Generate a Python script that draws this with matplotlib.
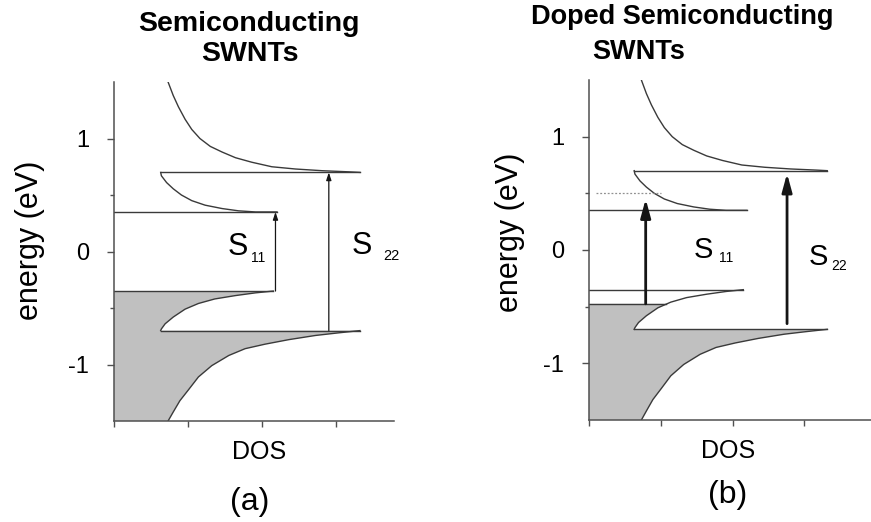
import matplotlib.pyplot as plt
from matplotlib.ticker import FixedLocator

plt.rcParams['font.family'] = ['Liberation Sans', 'DejaVu Sans']

W, H = 871, 522

# density of states branches (DOS, energy in eV)
dos_c2 = [0.73, 0.80, 0.87, 0.96, 1.05, 1.16, 1.30, 1.46, 1.64, 1.86, 2.13, 2.45, 2.81, 3.17, 3.32]
e_c2 = [1.50, 1.38, 1.28, 1.17, 1.08, 1.00, 0.93, 0.88, 0.83, 0.79, 0.75, 0.73, 0.715, 0.705, 0.70]
dos_c1 = [0.63, 0.64, 0.71, 0.80, 0.91, 1.05, 1.23, 1.46, 1.68, 1.91, 2.20]
e_c1 = [0.70, 0.67, 0.61, 0.555, 0.50, 0.45, 0.41, 0.38, 0.36, 0.35, 0.35]
dos_v1 = [2.15, 1.91, 1.64, 1.36, 1.14, 0.96, 0.80, 0.69, 0.64, 0.63]
e_v1 = [-0.35, -0.366, -0.39, -0.42, -0.46, -0.51, -0.58, -0.64, -0.685, -0.70]
dos_v2 = [3.32, 3.03, 2.72, 2.36, 2.04, 1.77, 1.55, 1.32, 1.14, 1.01, 0.89, 0.80, 0.73]
e_v2 = [-0.70, -0.72, -0.743, -0.78, -0.82, -0.86, -0.92, -1.01, -1.11, -1.22, -1.32, -1.42, -1.50]

# van Hove singularity levels
vhs_c = [0.35, 0.70]
vhs_v = [-0.35, -0.70]

# doped tube: lowered Fermi level and depleted edge
e_fermi_doped = -0.475
dos_fermi_doped = 1.07
e_dotted = 0.50
dos_dotted = [0.10, 1.00]

# transitions: (DOS position, start energy, end energy)
trans_a = {'S11': (2.18, -0.35, 0.35), 'S22': (2.90, -0.70, 0.70)}
trans_b = {'S11': (0.79, -0.475, 0.45), 'S22': (2.76, -0.65, 0.675)}

line_c = '#3a3a3a'
fill_c = '#c0c0c0'


def px(x, y):
    return x / W, 1 - y / H


def setup_axes(rect, xmax):
    ax = fig.add_axes(rect)
    ax.set_xlim(0, xmax)
    ax.set_ylim(-1.5, 1.5)
    for s in ['top', 'right']:
        ax.spines[s].set_visible(False)
    for s in ['left', 'bottom']:
        ax.spines[s].set_color('#505050')
        ax.spines[s].set_linewidth(1.1)
    ax.set_yticks([-1, 0, 1])
    ax.set_yticklabels(['-1', '0', '1'])
    ax.yaxis.set_minor_locator(FixedLocator([-0.5, 0.5]))
    ax.set_xticks([0, 1, 2, 3])
    ax.set_xticklabels([])
    ax.tick_params(axis='y', which='major', length=5, width=1, color='#505050',
                   labelsize=17, pad=13)
    ax.tick_params(axis='y', which='minor', length=3, width=1, color='#505050')
    ax.tick_params(axis='x', length=4, width=1, color='#505050')
    return ax


def draw_bands(ax, fermi=None):
    # filled valence states
    if fermi is None:
        fx = [0] + dos_v2[::-1] + dos_v1[::-1] + [0]
        fy = [-1.5] + e_v2[::-1] + e_v1[::-1] + [vhs_v[0]]
    else:
        keep = [i for i in range(len(e_v1)) if e_v1[i] <= fermi]
        fx = [0] + dos_v2[::-1] + [dos_v1[i] for i in keep[::-1]] + [dos_fermi_doped, 0]
        fy = [-1.5] + e_v2[::-1] + [e_v1[i] for i in keep[::-1]] + [fermi, fermi]
    ax.fill(fx, fy, color=fill_c, lw=0, zorder=1)

    kw = dict(color=line_c, lw=1.0, zorder=2)
    ax.plot(dos_c2, e_c2, **kw)
    ax.plot(dos_c1, e_c1, **kw)
    ax.plot(dos_v1, e_v1, **kw)
    ax.plot(dos_v2, e_v2, **kw)
    ax.plot([0, dos_c1[-1]], [vhs_c[0], vhs_c[0]], **kw)
    ax.plot([dos_c1[0], dos_c2[-1]], [vhs_c[1], vhs_c[1]], **kw)
    ax.plot([0, dos_v1[0]], [vhs_v[0], vhs_v[0]], **kw)
    ax.plot([dos_v1[-1], dos_v2[0]], [vhs_v[1], vhs_v[1]], **kw)
    if fermi is not None:
        ax.plot([0, dos_fermi_doped], [fermi, fermi], **kw)


def draw_arrow(ax, t, style, lw):
    x, y0, y1 = t
    ax.annotate('', xy=(x, y1), xytext=(x, y0),
                arrowprops=dict(arrowstyle=style, lw=lw, color='#151515',
                                shrinkA=0, shrinkB=0), zorder=3)


fig = plt.figure(figsize=(W / 100, H / 100), dpi=100)

# (a) semiconducting
ax1 = setup_axes([114 / W, 101 / H, 280 / W, 339 / H], 3.78)
draw_bands(ax1)
draw_arrow(ax1, trans_a['S11'], '-|>,head_length=0.45,head_width=0.15', 0.9)
draw_arrow(ax1, trans_a['S22'], '-|>,head_length=0.45,head_width=0.15', 0.9)
ax1.text(1.67, 0.04, 'S', fontsize=22, ha='center', va='center')
ax1.text(1.95, -0.06, '11', fontsize=10, ha='center', va='center')
ax1.text(3.34, 0.045, 'S', fontsize=22, ha='center', va='center')
ax1.text(3.74, -0.04, '22', fontsize=10.5, ha='center', va='center')

# (b) doped semiconducting
ax2 = setup_axes([589 / W, 102 / H, 282 / W, 340 / H], 3.93)
draw_bands(ax2, fermi=e_fermi_doped)
ax2.plot(dos_dotted, [e_dotted, e_dotted], color='#909090', lw=0.9, ls=(0, (1.5, 1.5)), zorder=2)
draw_arrow(ax2, trans_b['S11'], '-|>,head_length=1.1,head_width=0.3', 2.0)
draw_arrow(ax2, trans_b['S22'], '-|>,head_length=1.1,head_width=0.3', 2.0)
ax2.text(1.60, 0.0, 'S', fontsize=21, ha='center', va='center')
ax2.text(1.91, -0.075, '11', fontsize=10, ha='center', va='center')
ax2.text(3.19, -0.066, 'S', fontsize=21, ha='center', va='center')
ax2.text(3.49, -0.14, '22', fontsize=10, ha='center', va='center')

# titles and labels
fig.text(*px(249, 24), 'Semiconducting', fontsize=20.5, fontweight='bold', ha='center', va='center')
fig.text(*px(250, 54), 'SWNTs', fontsize=20.5, fontweight='bold', ha='center', va='center')
fig.text(*px(682, 17), 'Doped Semiconducting', fontsize=19.5, fontweight='bold', ha='center', va='center')
fig.text(*px(639, 52), 'SWNTs', fontsize=19.5, fontweight='bold', ha='center', va='center')

fig.text(*px(30, 240), 'energy (eV)', fontsize=22, rotation=90, ha='center', va='center')
fig.text(*px(510, 232), 'energy (eV)', fontsize=22, rotation=90, ha='center', va='center')

fig.text(*px(259, 452), 'DOS', fontsize=18, ha='center', va='center')
fig.text(*px(728, 451), 'DOS', fontsize=18, ha='center', va='center')
fig.text(*px(250, 502), '(a)', fontsize=23, ha='center', va='center')
fig.text(*px(728, 495), '(b)', fontsize=23, ha='center', va='center')

fig.savefig('out.png', dpi=100)
